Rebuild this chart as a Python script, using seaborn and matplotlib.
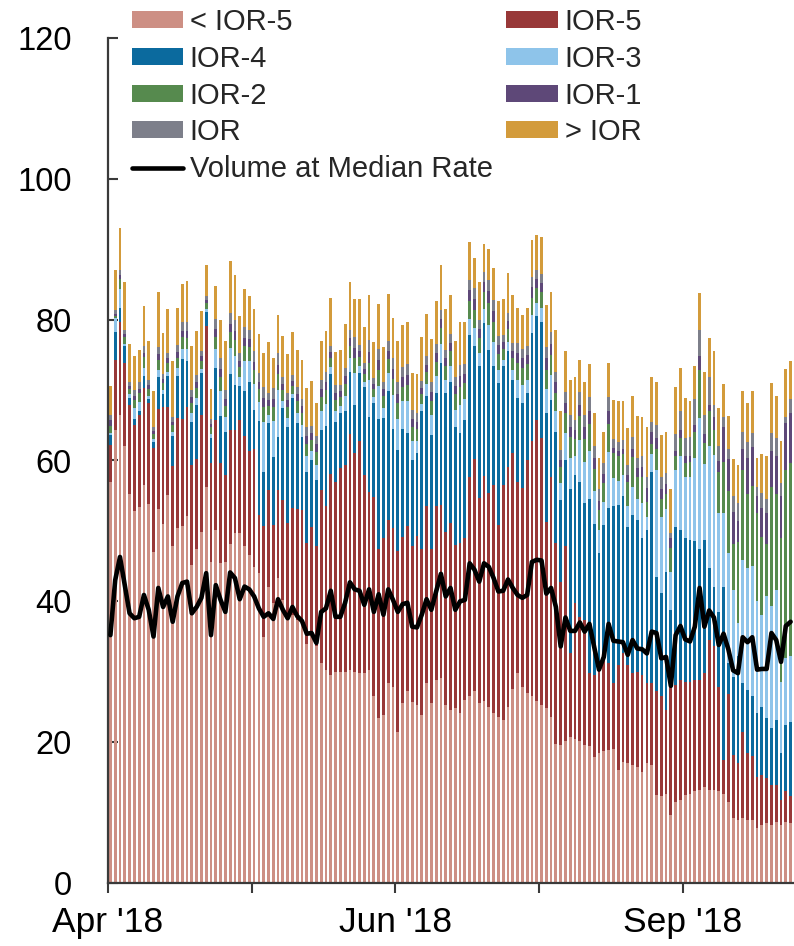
import numpy as np
import pandas as pd
import matplotlib
matplotlib.use("Agg")
import matplotlib.pyplot as plt
from matplotlib.patches import Patch
from matplotlib.lines import Line2D
import seaborn as sns

# ---------------- data (billions), one value per business day from 2 Apr 2018 ----------------
below_ior5 = [57.0, 64.3, 66.5, 62.1, 55.3, 52.8, 53.4, 56.5, 53.8, 47.0, 53.1, 51.0, 55.1, 47.9, 50.4, 50.7, 52.1, 45.2,
              47.5, 49.8, 56.3, 45.6, 50.2, 45.4, 45.6, 48.2, 49.7, 49.7, 47.8, 46.6, 44.9, 44.0, 35.0, 42.1, 39.7, 43.3,
              40.2, 38.1, 38.1, 37.4, 36.6, 34.0, 35.2, 33.6, 31.2, 30.3, 29.5, 30.0, 30.0, 30.0, 30.3, 30.0, 29.8, 29.8,
              30.3, 26.5, 23.4, 23.9, 28.4, 27.9, 21.5, 25.5, 27.2, 25.7, 25.3, 23.9, 28.4, 25.5, 28.8,
              29.1, 25.3, 24.6, 24.8, 24.1, 26.0, 26.5, 27.2, 25.5, 25.8, 25.0, 24.1, 23.6, 23.1, 25.0, 27.6, 29.8, 27.9,
              27.0, 26.5, 25.8, 25.3, 24.8, 23.6, 19.8,
              19.6, 20.1, 20.8, 20.5, 20.1, 19.6, 19.4, 17.9, 18.4, 18.7, 18.9,
              19.1, 16.0, 17.2, 17.0, 16.8, 16.5, 15.8, 17.0, 16.8, 12.5, 12.3, 12.7, 9.7, 11.5, 11.8, 12.5, 12.7, 13.0,
              13.2, 13.7, 13.2, 13.2, 13.0, 12.7, 11.5, 9.2, 9.0, 9.2, 9.0, 9.0, 7.8, 8.2, 8.5, 8.2, 8.7, 8.2, 8.7, 8.5]
ior_m5 = [5.2, 10.0, 13.2, 11.8, 12.6, 12.3, 13.1, 13.8, 14.4, 14.8, 14.2, 16.6, 12.5, 11.3, 15.6, 15.2, 15.5, 14.2,
          12.7, 16.7, 22.8, 14.1, 15.6, 14.3, 12.4, 16.1, 14.7, 16.1, 15.7, 14.8, 16.7, 8.3, 15.7, 13.7, 11.2, 12.5,
          14.2, 13.0, 15.1, 15.7, 16.4, 14.3, 15.4, 14.3, 24.6, 23.3, 28.6, 27.0, 28.9, 29.4, 33.5, 31.0, 33.0, 28.2,
          25.2, 28.3, 24.1, 25.1, 23.2, 22.5, 25.6, 23.6, 23.5, 22.1, 24.0, 23.6, 25.1, 22.0, 24.8,
          24.6, 24.6, 26.5, 23.2, 24.2, 23.0, 31.2, 33.0, 29.2, 32.0, 30.4, 32.4, 27.3, 33.4, 34.1, 33.4, 27.2, 28.2,
          33.0, 36.2, 40.0, 37.9, 26.5, 34.1, 28.5,
          23.2, 27.7, 11.8, 19.2, 17.7, 17.7, 10.4, 11.6, 11.9, 13.0, 12.3,
          9.3, 15.0, 15.4, 14.0, 13.0, 13.5, 13.7, 11.4, 11.6, 14.7, 14.2, 11.9, 18.2, 16.6, 17.0, 16.1, 15.9, 15.8,
          15.6, 16.1, 21.3, 20.4, 14.9, 4.8, 15.4, 9.0, 8.0, 12.3, 9.4, 9.0, 7.3, 7.1, 6.4, 5.7, 5.2, 3.6, 4.3, 3.8]
ior_m4 = [1.4, 4.0, 1.9, 2.3, 1.0, 0.8, 0.5, 1.7, 0.5, 0.8, 4.6, 1.9, 4.4, 4.3, 6.0, 8.5, 6.6, 6.0, 7.7, 5.9, 2.0, 3.5,
          7.3, 6.6, 6.0, 8.0, 6.3, 4.8, 6.3, 9.8, 5.6, 13.3, 7.7, 9.5, 9.6, 7.6,
          13.0, 13.7, 15.7, 12.2, 10.4, 10.0, 9.4, 9.3, 8.6, 11.3, 14.2, 8.5, 7.9, 7.6, 8.7, 6.9, 9.6, 12.5, 10.7,
          13.4, 18.4, 17.0, 18.3, 14.1, 14.4, 15.4, 13.2, 12.3, 11.7, 19.5, 15.6, 16.1, 16.0,
          20.1, 19.7, 20.1, 16.8, 15.6, 16.8, 20.1, 16.0, 18.7, 21.7, 20.3, 16.9, 20.1, 16.9, 16.4, 10.5, 11.9, 12.0,
          9.6, 15.4, 14.7, 16.4, 15.4, 10.9, 15.8,
          11.6, 12.3, 23.4, 18.2, 19.2, 16.7, 24.8, 21.5, 16.5, 19.2, 22.0,
          25.1, 22.7, 22.4, 19.6, 22.5, 21.6, 19.5, 21.7, 30.0, 16.3, 14.7, 19.6, 10.9, 22.5, 21.3, 20.4, 20.1, 19.7,
          18.7, 18.9, 10.2, 8.5, 10.6, 24.6, 4.3, 11.1, 15.2, 6.9, 9.0, 8.5, 9.0, 9.7, 8.5, 8.1, 9.3, 6.6, 9.4, 10.6]
ior_m3 = [0.3, 2.0, 2.7, 0.4, 0.5, 1.5, 1.3, 1.2, 0.5, 0.4, 0.9, 0.5, 0.6, 0.5, 1.1, 1.5, 1.6, 1.3, 1.0, 0.6, 0.4, 0.5,
          2.7, 3.5, 2.2, 3.7, 4.2, 1.2, 4.3, 2.9, 3.6, 2.7, 7.0, 1.1, 5.1, 6.6,
          1.1, 1.3, 0.6, 1.5, 1.7, 2.3, 1.4, 2.2, 2.6, 3.1, 1.0, 1.5, 0.9, 2.1, 2.0, 4.5, 1.0, 0.7, 5.3, 0.8, 4.7,
          1.5, 2.5, 4.8, 4.4, 3.9, 4.6, 2.6, 1.8, 1.0, 1.8, 2.9, 2.4,
          2.7, 1.8, 2.2, 2.4, 4.0, 2.9, 2.3, 2.6, 1.8, 2.0, 3.6, 3.4, 1.9, 0.9, 1.3, 1.3, 2.6, 2.6, 1.9, 2.5, 1.8,
          2.0, 3.4, 3.6, 2.9,
          2.4, 3.8, 4.3, 2.7, 5.9, 5.8, 6.8, 4.6, 3.4, 3.2, 8.0,
          4.0, 3.4, 2.9, 2.9, 4.0, 3.0, 5.0, 1.9, 2.5, 15.1, 10.8, 8.9, 5.3, 8.1, 10.5, 8.7, 9.0, 11.8, 18.5, 10.8,
          17.3, 18.7, 14.0, 10.4, 15.6, 12.3, 4.7, 17.5, 17.4, 18.5, 15.9, 13.1, 17.3, 17.3, 18.4, 10.2, 9.5, 9.3]
ior_m2 = [1.0, 0.2, 1.5, 0.9, 0.8, 1.2, 1.3, 1.5, 1.0, 0.8, 1.5, 1.0, 1.2, 1.0, 1.5, 1.6, 1.6, 1.4, 1.4, 1.1, 0.8, 1.0,
          1.8, 2.0, 1.6, 2.2, 2.2, 1.5, 2.1, 2.0, 2.0, 1.8, 2.2, 1.4, 2.0, 2.3,
          1.5, 1.5, 1.1, 1.6, 1.6, 1.8, 1.5, 1.8, 2.0, 2.0, 1.3, 1.6, 1.3, 1.8, 1.8, 2.2, 1.3, 1.1, 2.4, 1.2, 2.3,
          1.6, 2.0, 2.3, 2.2, 2.1, 2.2, 2.0, 1.7, 1.4, 1.7, 2.0, 2.0,
          2.3, 2.0, 2.1, 2.2, 2.6, 2.3, 2.5, 2.6, 2.2, 2.4, 3.0, 2.8, 2.2, 1.6, 1.9, 1.8, 2.4, 2.4, 2.2, 2.5, 2.2,
          2.3, 2.8, 2.8, 2.6,
          2.3, 2.8, 3.0, 2.5, 3.4, 3.3, 3.8, 3.2, 2.8, 2.7, 4.0,
          3.5, 3.5, 3.0, 3.5, 4.2, 3.0, 3.6, 2.1, 1.5, 3.0, 2.5, 2.2, 3.5, 1.9, 2.6, 2.0, 2.1, 3.8, 6.8, 3.0, 5.0,
          3.5, 5.9, 7.3, 8.9, 6.6, 11.5, 12.7, 10.5, 11.4, 12.5, 11.1, 7.4, 17.0, 13.6, 20.4, 26.8, 27.4]
ior_m1 = [0.8, 0.3, 0.6, 0.5, 0.4, 0.6, 0.6, 0.6, 0.5, 0.4, 0.8, 0.6, 0.7, 0.5, 0.8, 0.9, 1.0, 0.9, 0.9, 0.7, 0.5, 0.5,
          1.1, 1.2, 1.0, 1.2, 1.3, 0.9, 1.2, 1.1, 1.2, 1.0, 1.3, 0.8, 1.2, 1.3,
          0.9, 1.0, 0.7, 1.0, 1.0, 1.1, 1.0, 1.1, 1.2, 1.2, 0.8, 1.0, 0.8, 1.1, 1.1, 1.4, 0.8, 0.7, 1.5, 0.7, 1.4,
          1.0, 1.2, 1.4, 1.4, 1.3, 1.4, 1.2, 1.0, 0.9, 1.0, 1.2, 1.2,
          1.3, 1.1, 1.2, 1.2, 1.5, 1.3, 1.6, 1.6, 1.3, 1.4, 1.7, 1.6, 1.3, 0.9, 1.1, 1.0, 1.4, 1.4, 1.3, 1.5, 1.3,
          1.3, 1.6, 1.6, 1.5,
          1.0, 1.4, 1.5, 1.2, 1.6, 1.6, 1.8, 1.5, 1.3, 1.3, 1.8,
          0.8, 0.8, 0.8, 1.0, 1.2, 1.3, 1.5, 2.0, 1.6, 1.6, 1.5, 1.4, 1.4, 0.8, 1.1, 0.9, 0.8, 1.0, 2.0, 1.2, 0.9,
          1.9, 1.5, 5.0, 4.5, 4.5, 3.0, 3.0, 5.0, 5.5, 2.4, 4.0, 4.5, 5.0, 5.5, 6.0, 6.6, 7.1]
ior_at = [0.8, 0.6, 0.7, 0.6, 0.6, 0.8, 0.9, 1.0, 0.7, 0.6, 1.0, 0.7, 0.8, 0.7, 1.0, 1.2, 1.2, 1.0, 1.0, 0.8, 0.6, 0.7,
          1.4, 1.5, 1.2, 1.6, 1.6, 1.1, 1.6, 1.4, 1.5, 1.3, 1.6, 1.0, 1.5, 1.6,
          1.0, 1.0, 0.8, 1.1, 1.1, 1.2, 1.0, 1.2, 1.3, 1.4, 0.9, 1.1, 0.9, 1.2, 1.2, 1.6, 0.9, 0.8, 1.7, 0.8, 1.6,
          1.1, 1.3, 1.6, 1.6, 1.5, 1.6, 1.3, 1.2, 1.0, 1.2, 1.4, 1.3,
          1.3, 1.2, 1.3, 1.3, 1.6, 1.4, 1.5, 1.5, 1.3, 1.4, 1.7, 1.6, 1.3, 1.0, 1.1, 1.1, 1.4, 1.4, 1.3, 1.5, 1.3,
          1.3, 1.6, 1.6, 1.5,
          1.4, 1.6, 1.7, 1.5, 1.8, 1.8, 2.0, 1.8, 1.6, 1.6, 2.0,
          1.3, 1.2, 1.2, 1.4, 1.7, 1.4, 1.6, 1.6, 1.5, 1.8, 1.6, 1.5, 0.7, 2.4, 2.8, 2.6, 2.7, 3.6, 3.7, 2.8, 4.0,
          1.7, 2.1, 1.4, 1.5, 2.2, 2.5, 2.5, 2.3, 2.0, 1.4, 2.2, 2.0, 2.6, 2.5, 1.8, 0.9, 2.1]
above_ior = [4.1, 5.7, 5.9, 6.8, 5.4, 4.9, 4.6, 5.7, 5.5, 5.0, 7.8, 5.8, 6.2, 7.9, 5.2, 5.4, 5.9, 6.3, 6.2, 5.6, 4.4,
             4.2, 4.7, 5.4, 6.9, 7.3, 6.4, 5.2, 5.3, 4.8, 6.0, 5.6, 4.7, 7.2, 4.3, 5.4,
             5.8, 5.5, 6.2, 5.2, 5.5, 5.6, 6.4, 4.6, 5.4, 5.8, 6.8, 4.7, 5.0, 6.2, 6.8, 5.4, 6.6, 5.2, 6.4, 5.1, 6.3,
             4.9, 6.8, 5.6, 5.8, 6.0, 5.9, 5.2, 5.6, 6.3, 6.0, 6.1, 6.2,
             6.4, 5.8, 5.5, 5.0, 6.1, 6.0, 5.3, 4.3, 5.4, 4.1, 4.3, 4.5, 4.9, 5.1, 5.7, 6.8, 4.9, 4.8, 5.3, 5.2, 4.9,
             5.3, 6.0, 5.8, 5.9,
             5.6, 5.9, 5.0, 6.1, 4.6, 4.7, 4.7, 4.7, 4.4, 4.4, 4.9,
             5.5, 5.9, 5.6, 5.2, 5.7, 6.0, 5.5, 7.0, 6.3, 6.2, 6.0, 5.8, 6.2, 6.6, 6.1, 5.7, 5.2, 4.7, 5.3, 6.0, 5.5,
             7.6, 5.4, 4.7, 4.6, 5.3, 5.5, 5.8, 5.6, 5.9, 4.0, 5.5, 6.0, 7.1, 6.0, 6.0, 6.8, 5.4]
median_volume = [35.2, 43.0, 46.3, 42.3, 38.3, 37.6, 37.8, 40.9, 38.8, 35.0, 41.9, 39.2, 40.7, 37.1, 40.7, 42.6, 42.8,
                 38.3, 39.2, 40.5, 44.0, 35.2, 42.3, 40.2, 38.5, 44.1, 43.3, 40.3, 42.1, 41.7, 40.7, 39.0, 37.8, 38.3,
                 37.5, 40.3, 38.8, 37.6, 39.2, 37.9, 37.2, 35.4, 35.5, 34.1, 38.5, 39.0, 41.5, 37.8, 37.8, 39.8, 42.7,
                 41.7, 41.5, 39.5, 41.7, 38.5, 41.0, 38.1, 41.7, 40.2, 38.5, 39.6, 39.8, 36.4, 36.3, 38.1, 40.3, 38.8,
                 41.4, 43.9, 40.7, 41.9, 38.8, 40.0, 40.2, 45.4, 44.5, 42.8, 45.4, 44.9, 43.3, 41.4, 41.5, 43.1, 41.9,
                 40.9, 40.5, 40.9, 45.6, 45.9, 45.8, 41.1, 41.9, 39.2, 33.6, 37.7, 35.8, 35.8, 37.0, 35.7, 36.8, 33.5,
                 30.3, 32.1, 36.8, 34.4, 34.3, 34.2, 32.4, 34.5, 33.3, 33.2, 32.6, 35.7, 35.5, 31.9, 32.1, 28.0, 35.2,
                 36.5, 34.6, 34.3, 36.4, 41.9, 36.4, 38.7, 37.7, 33.8, 35.4, 33.2, 30.2, 29.8, 34.9, 34.2, 34.9, 30.3,
                 30.4, 30.4, 35.5, 34.5, 31.4, 36.5, 37.1]

series_names = ["< IOR-5", "IOR-5", "IOR-4", "IOR-3", "IOR-2", "IOR-1", "IOR", "> IOR"]
series_values = [below_ior5, ior_m5, ior_m4, ior_m3, ior_m2, ior_m1, ior_at, above_ior]
series_colors = ["#CD8F84", "#983838", "#0B6A9E", "#8EC4EA", "#568A4E", "#5E4878", "#7D7F8A", "#D39B3B"]
line_name = "Volume at Median Rate"
x_tick_labels = ["Apr '18", "", "Jun '18", "", "Sep '18"]
y_ticks = [0, 20, 40, 60, 80, 100, 120]

n = len(median_volume)
for s in series_values:
    assert len(s) == n, len(s)

# ---------------- figure ----------------
sns.set_theme(style="white")
plt.rcParams["font.family"] = ["Liberation Sans", "DejaVu Sans"]

W, H = 794, 946
fig = plt.figure(figsize=(W / 100, H / 100), dpi=100)
ax = fig.add_axes([108 / W, 1 - 883 / H, (793 - 108) / W, (883 - 38) / H])

day = np.arange(n)
cum = np.cumsum(np.array(series_values), axis=0)

# stacked bars: draw cumulative heights from the top layer down
for k in range(len(series_values) - 1, -1, -1):
    sns.barplot(x=day, y=cum[k], color=series_colors[k], width=0.58, saturation=1,
                errorbar=None, linewidth=0, ax=ax)

sns.lineplot(x=day, y=median_volume, color="black", linewidth=3.3, ax=ax, zorder=5)

ax.set_xlim(-0.5, n - 0.5)
ax.set_ylim(0, 120)
ax.set_xticks([-0.5 + 30 * j for j in range(len(x_tick_labels))])
ax.set_xticklabels(x_tick_labels)
ax.set_yticks(y_ticks)
ax.set_yticklabels([str(v) for v in y_ticks])
ax.set_xlabel("")
ax.set_ylabel("")

for side in ["top", "right"]:
    ax.spines[side].set_visible(False)
for side in ["left", "bottom"]:
    ax.spines[side].set_color("#3a3a3a")
    ax.spines[side].set_linewidth(1.6)

ax.tick_params(axis="y", direction="in", length=7.5, width=1.5, color="#3a3a3a",
               labelsize=23.5, pad=26, labelcolor="black", left=True)
ax.tick_params(axis="x", direction="out", length=7.5, width=1.5, color="#3a3a3a",
               labelsize=25.5, pad=9, labelcolor="black", bottom=True)

# legend (two columns, filled column-wise)
patches = [Patch(facecolor=c, edgecolor="none", label=nm) for nm, c in zip(series_names, series_colors)]
line_handle = Line2D([], [], color="black", linewidth=3.3, label=line_name)
order_handles = [patches[0], patches[2], patches[4], patches[6], line_handle,
                 patches[1], patches[3], patches[5], patches[7]]
leg = fig.legend(handles=order_handles, ncol=2, loc="upper left",
                 bbox_to_anchor=(131.5 / W, 1 - 8 / H), bbox_transform=fig.transFigure,
                 frameon=False, fontsize=21, handlelength=1.78, handleheight=0.51,
                 handletextpad=0.22, columnspacing=0.46, labelspacing=0.3, borderpad=0,
                 borderaxespad=0)

fig.savefig("out.png", dpi=100)
